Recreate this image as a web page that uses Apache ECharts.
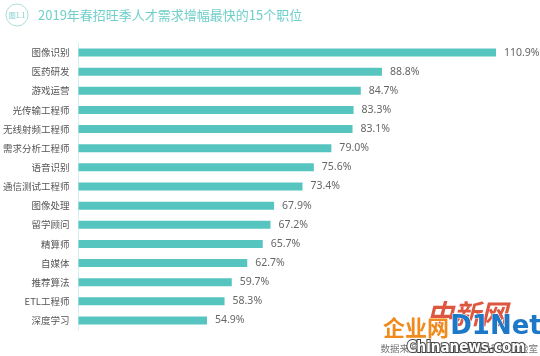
<!DOCTYPE html>
<html>
<head>
<meta charset="utf-8">
<script src="https://cdn.jsdelivr.net/npm/echarts@6/dist/echarts.min.js"></script>
<style>
html,body{margin:0;padding:0;background:#fff;}
#chart{width:540px;height:356px;}
</style>
</head>
<body>
<div id="chart"></div>
<script>
var categories = ['图像识别','医药研发','游戏运营','光传输工程师','无线射频工程师','需求分析工程师','语音识别','通信测试工程师','图像处理','留学顾问','精算师','自媒体','推荐算法','ETL工程师','深度学习'];
var growthValues = [110.9, 88.8, 84.7, 83.3, 83.1, 79.0, 75.6, 73.4, 67.9, 67.2, 65.7, 62.7, 59.7, 58.3, 54.9];
var titleText = '2019年春招旺季人才需求增幅最快的15个职位';
var badgeText = '图1.1';
var sourceText = '数据来源：BOSS直聘职业科学实验室';

var FONT = '"Noto Sans CJK SC","Noto Sans",sans-serif';
var chart = echarts.init(document.getElementById('chart'), null, {renderer:'canvas'});
chart.setOption({
  backgroundColor:'#ffffff',
  animation:false,
  textStyle:{fontFamily:FONT},
  grid:{left:73, top:43, width:423, height:287, containLabel:false},
  xAxis:{
    type:'value', min:30, max:110.9,
    show:false
  },
  yAxis:{
    type:'category', data:categories, inverse:true,
    axisLine:{show:true, lineStyle:{color:'#d3eeee', width:1}},
    axisTick:{show:false},
    axisLabel:{color:'#555', fontSize:9.5, margin:9, fontFamily:FONT},
    splitLine:{show:false}
  },
  series:[{
    type:'bar',
    data:growthValues,
    barWidth:8,
    itemStyle:{color:'#56c5bf'},
    label:{show:true, position:'right', distance:8, color:'#666', fontSize:10.5,
      fontFamily:'"Noto Sans",sans-serif',
      formatter:function(p){return p.value.toFixed(1)+'%';}}
  }],
  graphic:[
    {type:'circle', shape:{cx:17, cy:15, r:11}, style:{fill:'none', stroke:'#a9e0dd', lineWidth:1}},
    {type:'text', x:17, y:15, style:{text:badgeText, fill:'#7fd0cb', font:'7px '+FONT, align:'center', verticalAlign:'middle'}},
    {type:'text', x:38, y:15, style:{text:titleText, fill:'#6fcfc9', font:'13px '+FONT, verticalAlign:'middle'}},
    {type:'text', x:538, y:348, z:1, style:{text:sourceText, fill:'#777', font:'9.5px '+FONT, align:'right', verticalAlign:'middle'}},
    {type:'text', x:467, y:314, z:5, style:{text:'中新网', fill:'#d9452b', font:'italic bold 27px '+FONT, align:'center', verticalAlign:'middle', opacity:0.9}},
    {type:'text', x:416, y:328, z:6, style:{text:'企业网', fill:'#f08a1c', font:'bold 22px '+FONT, align:'center', verticalAlign:'middle', stroke:'#fff', lineWidth:1}},
    {type:'text', x:496, y:327, z:6, style:{text:'D1Net', fill:'#1e78c8', font:'bold 26px "DejaVu Sans",sans-serif', align:'center', verticalAlign:'middle', stroke:'#fff', lineWidth:1}},
    {type:'text', x:466, y:348, z:7, style:{text:'Chinanews.com', fill:'#ffffff', font:'bold 15px "DejaVu Sans Condensed","DejaVu Sans",sans-serif', align:'center', verticalAlign:'middle', stroke:'#444', lineWidth:2}}
  ]
});
</script>
</body>
</html>
